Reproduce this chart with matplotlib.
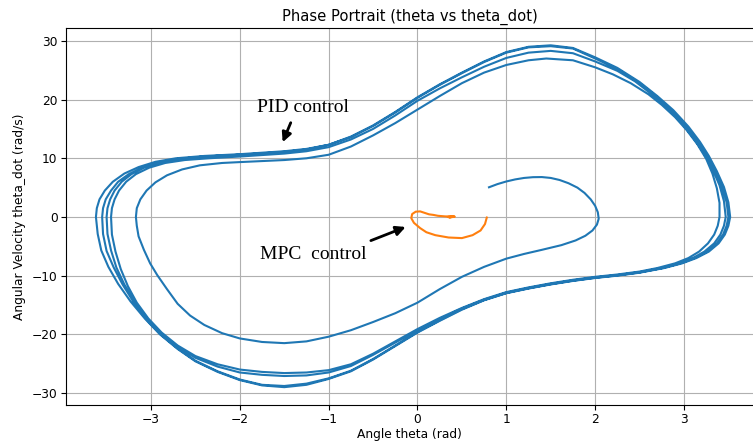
import matplotlib
matplotlib.use('Agg')
import matplotlib.pyplot as plt

# PID trajectory as (theta, theta_dot) points, pass by pass
pid_inner = [
    (0.805, 5.06), (0.9, 5.6), (1.0, 6.05), (1.1, 6.4), (1.2, 6.65), (1.3, 6.78), (1.4, 6.8),
    (1.5, 6.65), (1.6, 6.3), (1.7, 5.75), (1.8, 5.0), (1.88, 4.1), (1.95, 3.0), (2.0, 1.9),
    (2.03, 0.8), (2.04, -0.3), (2.02, -1.3), (1.97, -2.3), (1.89, -3.2), (1.78, -4.0),
    (1.62, -4.8), (1.4, -5.6), (1.2, -6.3), (1.0, -7.1), (0.75, -8.5), (0.5, -10.2),
    (0.25, -12.3), (0.0, -14.6), (-0.25, -16.4), (-0.5, -17.9), (-0.75, -19.3), (-1.0, -20.4),
    (-1.25, -21.2), (-1.5, -21.5), (-1.75, -21.3), (-2.0, -20.7), (-2.2, -19.8), (-2.4, -18.4),
    (-2.56, -16.8), (-2.7, -14.8), (-2.82, -12.3), (-2.93, -9.9), (-3.01, -7.9), (-3.08, -5.6),
    (-3.14, -3.3), (-3.16, -1.5), (-3.17, 0.0),
]
pid_loop1 = [
    (-3.16, 1.5), (-3.12, 3.0), (-3.05, 4.5), (-2.95, 5.9), (-2.82, 7.1), (-2.65, 8.1),
    (-2.45, 8.8), (-2.2, 9.2), (-2.0, 9.35), (-1.5, 9.7), (-1.25, 10.0), (-1.0, 10.6),
    (-0.75, 12.0), (-0.5, 13.9), (-0.25, 16.0), (0.0, 18.3), (0.25, 20.6), (0.5, 22.8),
    (0.75, 24.6), (1.0, 25.9), (1.25, 26.7), (1.45, 27.0), (1.75, 26.7), (2.0, 25.5),
    (2.2, 24.3), (2.4, 22.8), (2.6, 20.9), (2.75, 19.1), (2.9, 17.0), (3.03, 14.8),
    (3.15, 12.4), (3.25, 9.9), (3.32, 7.4), (3.37, 4.9), (3.4, 2.4), (3.40, 0.0),
    (3.38, -1.5), (3.34, -3.0), (3.27, -4.5), (3.17, -5.9), (3.05, -7.0), (2.9, -7.9),
    (2.7, -8.7), (2.5, -9.3), (2.25, -9.8), (2.0, -10.2), (1.75, -10.7), (1.5, -11.3),
    (1.25, -12.0), (1.0, -12.8), (0.75, -14.0), (0.5, -15.5), (0.25, -17.2), (0.0, -19.1),
    (-0.25, -21.2), (-0.5, -23.3), (-0.75, -25.1), (-1.0, -26.1), (-1.25, -26.5),
    (-1.5, -26.6), (-1.75, -26.4), (-2.0, -26.0), (-2.25, -25.1), (-2.5, -23.7),
    (-2.7, -21.9), (-2.88, -19.7), (-3.03, -17.3), (-3.16, -14.6), (-3.26, -11.8),
    (-3.34, -8.9), (-3.4, -5.9), (-3.44, -3.0), (-3.45, 0.0),
]
pid_loop2 = [
    (-3.44, 1.5), (-3.41, 3.0), (-3.36, 4.5), (-3.28, 6.0), (-3.17, 7.3), (-3.02, 8.4),
    (-2.84, 9.2), (-2.62, 9.7), (-2.35, 10.0), (-2.0, 10.3), (-1.5, 10.8), (-1.25, 11.2),
    (-1.0, 11.9), (-0.75, 13.2), (-0.5, 15.0), (-0.25, 17.3), (0.0, 19.8), (0.25, 21.9),
    (0.5, 23.8), (0.75, 25.6), (1.0, 27.1), (1.25, 28.0), (1.5, 28.3), (1.75, 27.9),
    (2.0, 26.5), (2.25, 24.9), (2.45, 23.1), (2.63, 21.0), (2.8, 18.8), (2.96, 16.3),
    (3.1, 13.6), (3.22, 11.0), (3.32, 8.2), (3.4, 5.4), (3.45, 2.7), (3.47, 0.0),
    (3.45, -1.5), (3.41, -3.0), (3.34, -4.5), (3.23, -5.9), (3.1, -7.0), (2.95, -7.9),
    (2.75, -8.7), (2.5, -9.4), (2.25, -9.9), (2.0, -10.3), (1.75, -10.8), (1.5, -11.4),
    (1.25, -12.1), (1.0, -12.9), (0.75, -14.1), (0.5, -15.6), (0.25, -17.4), (0.0, -19.3),
    (-0.25, -21.4), (-0.5, -23.5), (-0.75, -25.4), (-1.0, -26.5), (-1.25, -27.0),
    (-1.5, -27.1), (-1.75, -26.9), (-2.0, -26.5), (-2.25, -25.5), (-2.5, -24.0),
    (-2.7, -22.1), (-2.9, -19.7), (-3.05, -17.2), (-3.19, -14.4), (-3.3, -11.5),
    (-3.39, -8.6), (-3.45, -5.7), (-3.49, -2.9), (-3.50, 0.0),
]
pid_loop3 = [
    (-3.49, 1.5), (-3.46, 3.0), (-3.41, 4.5), (-3.33, 6.0), (-3.22, 7.3), (-3.08, 8.4),
    (-2.9, 9.3), (-2.68, 9.9), (-2.4, 10.3), (-2.0, 10.6), (-1.5, 11.1), (-1.25, 11.5),
    (-1.0, 12.3), (-0.75, 13.7), (-0.5, 15.6), (-0.25, 17.9), (0.0, 20.4), (0.25, 22.6),
    (0.5, 24.6), (0.75, 26.5), (1.0, 28.1), (1.25, 29.0), (1.5, 29.25), (1.75, 28.8),
    (2.0, 27.2), (2.25, 25.4), (2.5, 23.0), (2.7, 20.6), (2.88, 18.2), (3.05, 15.4),
    (3.18, 12.8), (3.28, 10.4), (3.37, 7.8), (3.45, 5.1), (3.5, 2.5), (3.52, 0.0),
    (3.5, -1.5), (3.46, -3.0), (3.39, -4.5), (3.28, -5.9), (3.14, -7.0), (2.98, -7.9),
    (2.78, -8.7), (2.5, -9.5), (2.25, -10.0), (2.0, -10.4), (1.75, -10.9), (1.5, -11.5),
    (1.25, -12.2), (1.0, -13.0), (0.75, -14.2), (0.5, -15.8), (0.25, -17.7), (0.0, -19.7),
    (-0.25, -22.0), (-0.5, -24.3), (-0.75, -26.3), (-1.0, -27.6), (-1.25, -28.6),
    (-1.5, -29.0), (-1.75, -28.7), (-2.0, -27.8), (-2.25, -26.4), (-2.5, -24.6),
    (-2.7, -22.5), (-2.9, -20.0), (-3.07, -17.3), (-3.23, -14.4), (-3.37, -11.4),
    (-3.48, -8.5), (-3.56, -5.7), (-3.6, -2.9), (-3.62, 0.0),
]
pid_loop4 = [
    (-3.61, 1.5), (-3.58, 3.0), (-3.52, 4.5), (-3.43, 6.0), (-3.3, 7.4), (-3.14, 8.5),
    (-2.95, 9.4), (-2.72, 10.0), (-2.4, 10.4), (-2.0, 10.7), (-1.5, 11.2), (-1.25, 11.6),
    (-1.0, 12.3), (-0.75, 13.6), (-0.5, 15.5), (-0.25, 17.8), (0.0, 20.3), (0.25, 22.5),
    (0.5, 24.5), (0.75, 26.4), (1.0, 28.0), (1.25, 28.9), (1.5, 29.1), (1.75, 28.7),
    (2.0, 27.0), (2.25, 25.2), (2.5, 22.8), (2.7, 20.4), (2.87, 18.0), (3.03, 15.3),
    (3.16, 12.7), (3.26, 10.3), (3.35, 7.7), (3.43, 5.0), (3.48, 2.5), (3.50, 0.0),
    (3.48, -1.5), (3.44, -3.0), (3.37, -4.5), (3.26, -5.9), (3.12, -7.0), (2.96, -7.9),
    (2.76, -8.7), (2.5, -9.45), (2.25, -9.95), (2.0, -10.35), (1.75, -10.85), (1.5, -11.45),
    (1.25, -12.15), (1.0, -12.95), (0.75, -14.15), (0.5, -15.7), (0.25, -17.6), (0.0, -19.6),
    (-0.25, -21.9), (-0.5, -24.2), (-0.75, -26.2), (-1.0, -27.5), (-1.25, -28.4),
    (-1.5, -28.8), (-1.75, -28.6), (-2.0, -27.7), (-2.25, -26.3), (-2.5, -24.5),
    (-2.7, -22.4), (-2.9, -19.9), (-3.06, -17.3), (-3.2, -14.4), (-3.32, -11.5),
    (-3.42, -8.6), (-3.5, -5.8), (-3.54, -2.9), (-3.55, 0.0),
]
pid_tail = [
    (-3.54, 1.5), (-3.51, 3.0), (-3.45, 4.5), (-3.37, 6.0), (-3.25, 7.3), (-3.1, 8.4),
    (-2.92, 9.3), (-2.7, 9.9), (-2.4, 10.3), (-2.0, 10.6), (-1.5, 11.0),
]

# MPC trajectory
mpc_points = [
    (0.78, -0.1), (0.76, -1.2), (0.71, -2.3), (0.62, -3.1), (0.5, -3.6), (0.35, -3.5),
    (0.2, -3.1), (0.1, -2.6), (0.03, -1.9), (-0.04, -1.0), (-0.07, -0.2), (-0.06, 0.5),
    (-0.02, 0.9), (0.03, 0.95), (0.08, 0.7), (0.13, 0.45), (0.18, 0.35), (0.23, 0.2),
    (0.31, 0.1), (0.42, 0.05), (0.36, -0.08), (0.41, 0.08), (0.34, 0.0), (0.39, 0.03),
    (0.35, -0.03), (0.38, 0.0),
]

pid = pid_inner + pid_loop1 + pid_loop2 + pid_loop3 + pid_loop4 + pid_tail
pid_theta = [p[0] for p in pid]
pid_theta_dot = [p[1] for p in pid]
mpc_theta = [p[0] for p in mpc_points]
mpc_theta_dot = [p[1] for p in mpc_points]

fig = plt.figure(figsize=(7.53, 4.43), dpi=100)
ax = fig.add_axes([66 / 753, 38 / 443, 1 - 66 / 753, 377 / 443])

ax.plot(pid_theta, pid_theta_dot, color='#1f77b4', lw=1.5)
ax.plot(mpc_theta, mpc_theta_dot, color='#ff7f0e', lw=1.5)

ax.set_xlim(-3.957, 3.777)
ax.set_ylim(-32.04, 32.2)
ax.set_xticks([-3, -2, -1, 0, 1, 2, 3])
ax.set_yticks([-30, -20, -10, 0, 10, 20, 30])
ax.tick_params(labelsize=8.8, pad=2.5)
ax.grid(True)
ax.spines['right'].set_visible(False)

ax.set_title('Phase Portrait (theta vs theta_dot)', fontsize=10.6, pad=5)
ax.set_xlabel('Angle theta (rad)', fontsize=8.8, labelpad=1.5)
ax.set_ylabel('Angular Velocity theta_dot (rad/s)', fontsize=8.8)

serif = 'Liberation Serif'
ax.text(-1.81, 17.9, 'PID control', family=serif, fontsize=14, va='baseline')
ax.annotate('', xy=(-1.53, 12.3), xytext=(-1.415, 16.5),
            arrowprops=dict(arrowstyle='-|>', color='black', lw=2, mutation_scale=14))
ax.text(-1.77, -7.2, 'MPC  control', family=serif, fontsize=14, va='baseline')
ax.annotate('', xy=(-0.104, -1.53), xytext=(-0.554, -4.2),
            arrowprops=dict(arrowstyle='-|>', color='black', lw=2, mutation_scale=14))

fig.savefig('out.png', dpi=100)
